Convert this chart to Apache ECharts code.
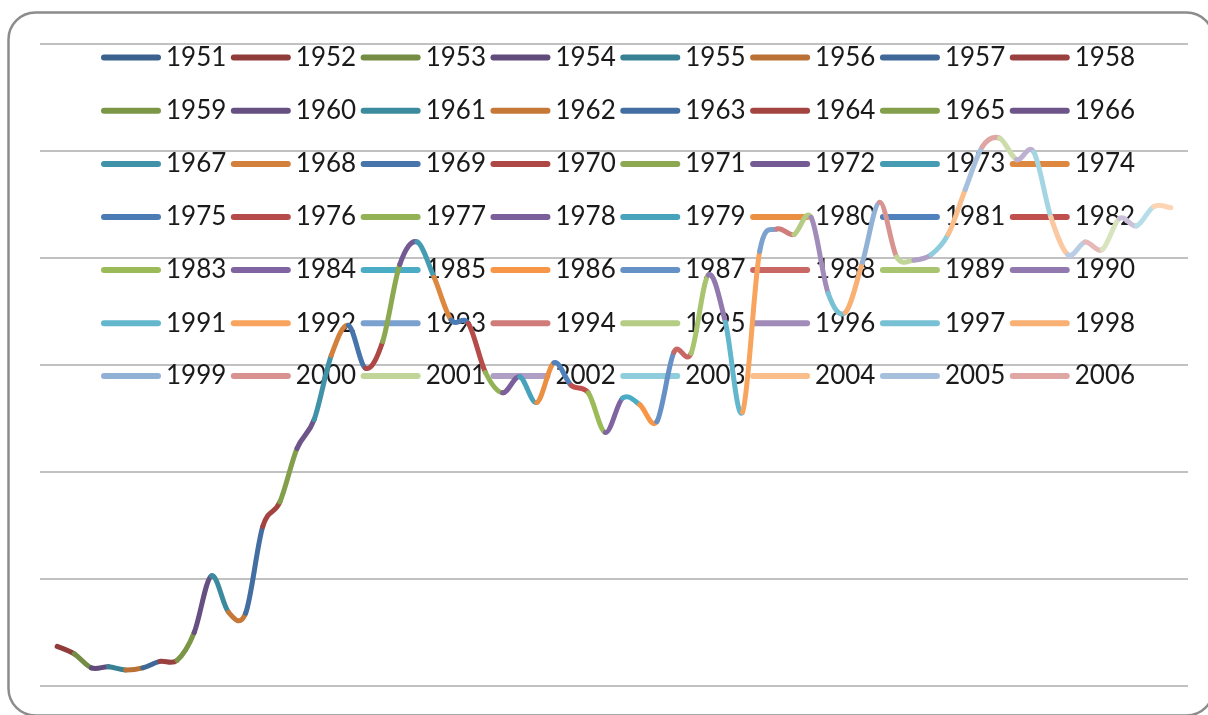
<!DOCTYPE html>
<html>
<head>
<meta charset="utf-8">
<script src="https://cdn.jsdelivr.net/npm/echarts@6/dist/echarts.min.js"></script>
<style>
    html, body { margin: 0; padding: 0; background: #fff; }
    #chart { width: 1208px; height: 715px; }
</style>
</head>
<body>
<div id="chart"></div>
<script>
// one point per year, each segment is its own series (Excel-style)
const years = [
    1951, 1952, 1953, 1954, 1955, 1956, 1957, 1958, 1959, 1960,
    1961, 1962, 1963, 1964, 1965, 1966, 1967, 1968, 1969, 1970,
    1971, 1972, 1973, 1974, 1975, 1976, 1977, 1978, 1979, 1980,
    1981, 1982, 1983, 1984, 1985, 1986, 1987, 1988, 1989, 1990,
    1991, 1992, 1993, 1994, 1995, 1996, 1997, 1998, 1999, 2000,
    2001, 2002, 2003, 2004, 2005, 2006, 2007, 2008, 2009, 2010,
    2011, 2012, 2013, 2014, 2015, 2016
];
const values = [
    3.7, 3.0, 1.7, 1.8, 1.5, 1.7, 2.3, 2.4, 5.0, 10.3,
    6.9, 6.8, 14.9, 17.2, 22.2, 24.9, 30.9, 33.7, 29.7, 32.2,
    39.4, 41.5, 38.2, 34.2, 33.9, 29.3, 27.4, 28.9, 26.5, 30.2,
    28.1, 27.4, 23.7, 26.9, 26.3, 24.7, 31.2, 31.1, 38.4, 34.0,
    25.6, 40.6, 42.7, 42.2, 43.8, 36.7, 34.9, 39.6, 45.2, 40.1,
    39.8, 40.3, 42.2, 46.4, 50.4, 51.2, 49.2, 49.9, 43.8, 40.3,
    41.5, 40.8, 43.7, 43.0, 44.8, 44.7
];
// the legend box only has room for the first 56 entries
const legendYears = years.slice(0, 56);

// Office 2007 palette, darkened / lightened per group of six
const baseColors = ['#4F81BD', '#C0504D', '#9BBB59', '#8064A2', '#4BACC6', '#F79646'];
const groupShift = [-0.25, -0.2, -0.15, -0.1, -0.05, 0, 0.13, 0.25, 0.38, 0.49, 0.6];

function shiftColor(hex, k) {
    const n = parseInt(hex.slice(1), 16);
    const ch = [(n >> 16) & 255, (n >> 8) & 255, n & 255].map(c => {
        const v = k < 0 ? c * (1 + k) : c + (255 - c) * k;
        return Math.round(v);
    });
    return 'rgb(' + ch.join(',') + ')';
}

const colors = years.map((y, i) => shiftColor(baseColors[i % 6], groupShift[Math.floor(i / 6)]));

const rowCenters = [56, 109.3, 162.5, 215.5, 268.5, 321.7, 374.5];
const capsule = 'path://M3,0 L57,0 A3,3 0 0 1 57,6 L3,6 A3,3 0 0 1 3,0 Z';

const legends = rowCenters.map((c, r) => ({
    data: legendYears.slice(r * 8, r * 8 + 8).map(String),
    left: 96,
    top: c - 18.5,
    orient: 'horizontal',
    icon: capsule,
    itemWidth: 60,
    itemHeight: 6,
    itemGap: 4.5,
    selectedMode: false,
    z: 1,
    textStyle: {
        fontFamily: 'Lato',
        fontSize: 26,
        color: '#1a1a1a',
        lineHeight: 30
    }
}));

const legendSeries = legendYears.map((y, i) => ({
    name: String(y),
    type: 'line',
    data: [],
    itemStyle: { color: colors[i] },
    lineStyle: { color: colors[i] }
}));

// Excel-like smoothing: each year's segment is a Catmull-Rom bezier
function renderSegment(params, api) {
    const i = params.dataIndex;
    if (i === 0) return;
    const last = years.length - 1;
    const pt = j => {
        const k = Math.max(0, Math.min(last, j));
        return api.coord([years[k], values[k]]);
    };
    const p0 = pt(i - 2), p1 = pt(i - 1), p2 = pt(i), p3 = pt(i + 1);
    return {
        type: 'bezierCurve',
        shape: {
            x1: p1[0], y1: p1[1],
            x2: p2[0], y2: p2[1],
            cpx1: p1[0] + (p2[0] - p0[0]) / 6,
            cpy1: p1[1] + (p2[1] - p0[1]) / 6,
            cpx2: p2[0] - (p3[0] - p1[0]) / 6,
            cpy2: p2[1] - (p3[1] - p1[1]) / 6
        },
        style: {
            fill: null,
            stroke: colors[i],
            lineWidth: 5,
            lineCap: 'round'
        }
    };
}

const chart = echarts.init(document.getElementById('chart'));

chart.setOption({
    animation: false,
    graphic: [{
        type: 'rect',
        shape: { x: 8.5, y: 12.5, width: 1205, height: 703, r: 27 },
        style: { fill: 'none', stroke: '#8c8c8c', lineWidth: 2.5 },
        z: 0
    }],
    legend: legends,
    grid: { left: 40, right: 20, top: 44, bottom: 29 },
    xAxis: {
        type: 'value',
        min: 1950,
        max: 2017,
        show: false
    },
    yAxis: {
        type: 'value',
        min: 0,
        max: 60,
        interval: 10,
        axisLabel: { show: false },
        axisLine: { show: false },
        axisTick: { show: false },
        splitLine: { lineStyle: { color: '#adadad', width: 1.5 } }
    },
    series: [{
        name: 'all',
        type: 'custom',
        z: 5,
        clip: false,
        renderItem: renderSegment,
        encode: { x: 0, y: 1 },
        data: years.map((y, i) => [y, values[i]])
    }].concat(legendSeries)
});
</script>
</body>
</html>
